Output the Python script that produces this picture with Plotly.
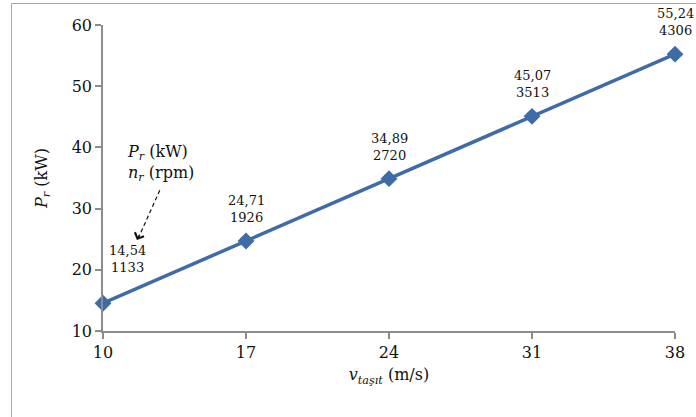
import plotly.graph_objects as go

# Vehicle speed (m/s), rotor power (kW) and rotor speed (rpm)
speed = [10, 17, 24, 31, 38]
power = [14.54, 24.71, 34.89, 45.07, 55.24]
rpm = [1133, 1926, 2720, 3513, 4306]
power_text = ["14,54", "24,71", "34,89", "45,07", "55,24"]
x_ticks = [10, 17, 24, 31, 38]
y_ticks = [10, 20, 30, 40, 50, 60]

LINE = "#3F6BA6"
AXIS = "#8C8C8C"
FONT = "DejaVu Serif"
INK = "#111111"

W, H = 696, 417
L, R, T, B = 103, 21, 25, 86

fig = go.Figure()
fig.add_trace(go.Scatter(
    x=speed, y=power, mode="lines+markers",
    line=dict(color=LINE, width=3.5),
    marker=dict(symbol="diamond", size=13, color=LINE),
    cliponaxis=False, showlegend=False, hoverinfo="skip",
))

# value labels above each point: power on top, rpm below
annotations = []
for i, (xv, yv, pt, n) in enumerate(zip(speed, power, power_text, rpm)):
    first = i == 0
    annotations.append(dict(
        x=xv, y=yv, xref="x", yref="y",
        text=f"{pt}<br>{n}", showarrow=False,
        xanchor="center", yanchor="bottom",
        xshift=24 if first else 0, yshift=26 if first else 14,
        font=dict(family=FONT, size=13, color=INK),
    ))

# note explaining the two label lines
annotations.append(dict(
    x=12.8, y=37.5, xref="x", yref="y",
    text="<i>P<sub>r</sub></i> (kW)<br><i>n<sub>r</sub></i> (rpm)",
    showarrow=False, xanchor="center", yanchor="middle", align="left",
    font=dict(family=FONT, size=16, color=INK),
))
# arrowhead at the end of the dashed pointer
annotations.append(dict(
    x=11.66, y=24.85, xref="x", yref="y", text="",
    showarrow=True, arrowhead=4, arrowsize=1.9, arrowwidth=1.0,
    arrowcolor=INK, ax=3, ay=-7, standoff=0,
))

fig.update_layout(
    width=W, height=H,
    margin=dict(l=L, r=R, t=T, b=B),
    paper_bgcolor="white", plot_bgcolor="white",
    font=dict(family=FONT, size=16, color=INK),
    annotations=annotations,
    shapes=[
        dict(type="line", xref="x", yref="y",
             x0=12.78, y0=33.0, x1=11.72, y1=25.1,
             line=dict(color=INK, width=1.2, dash="4px,3px")),
        dict(type="rect", xref="paper", yref="paper",
             x0=(11.5 - L) / (W - L - R), x1=1.2,
             y0=-0.4, y1=1 + (T - 3.5) / (H - T - B),
             line=dict(color="#A6A6A6", width=1), layer="below"),
    ],
    xaxis=dict(
        range=[10, 38], tickvals=x_ticks, ticktext=[str(v) for v in x_ticks],
        showgrid=False, zeroline=False, showline=True, linecolor=AXIS, linewidth=1.5,
        ticks="outside", ticklen=6, tickcolor=AXIS, tickwidth=1.5,
        tickfont=dict(family=FONT, size=16, color=INK),
        title=dict(text="<i>v<sub>taşıt</sub></i> (m/s)", standoff=8,
                   font=dict(family=FONT, size=16, color=INK)),
    ),
    yaxis=dict(
        range=[10, 60], tickvals=y_ticks,
        showgrid=False, zeroline=False, showline=True, linecolor=AXIS, linewidth=1.5,
        ticks="outside", ticklen=6, tickcolor=AXIS, tickwidth=1.5,
        tickfont=dict(family=FONT, size=16, color=INK),
        title=dict(text="<i>P<sub>r</sub></i> (kW)", standoff=20,
                   font=dict(family=FONT, size=16, color=INK)),
    ),
)

fig.write_html("out.html")
